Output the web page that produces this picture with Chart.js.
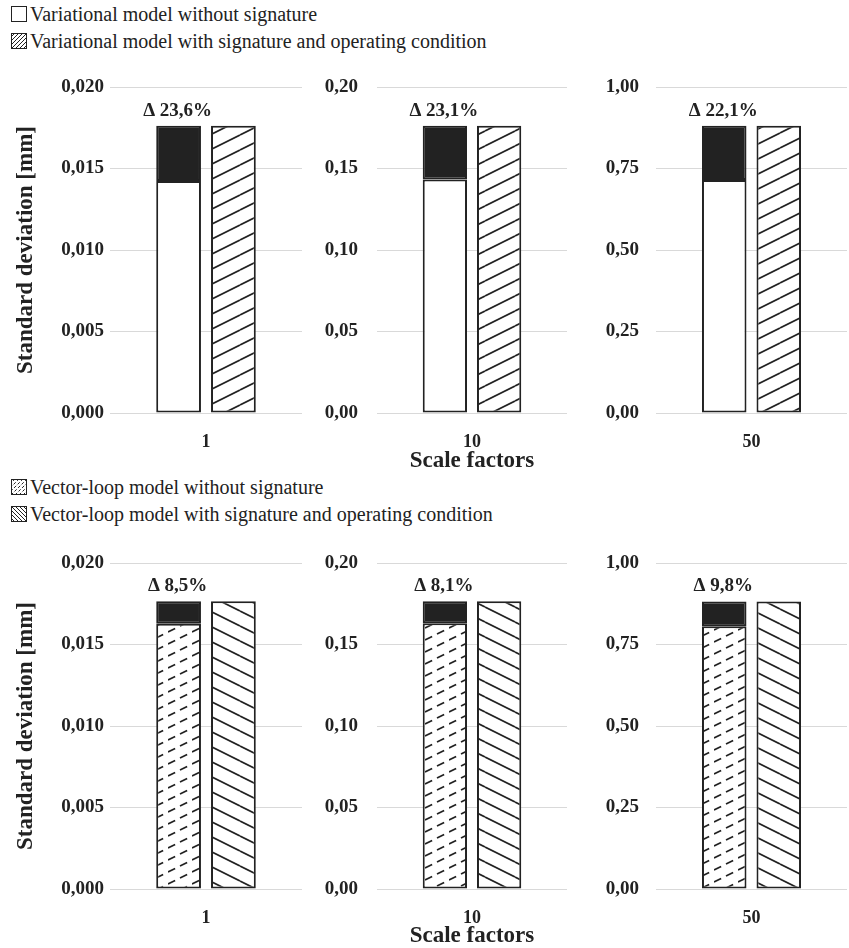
<!DOCTYPE html>
<html><head><meta charset="utf-8">
<script src="https://cdn.jsdelivr.net/npm/chart.js@4/dist/chart.umd.min.js"></script>
<style>
html,body{margin:0;padding:0;background:#fff;overflow:hidden;width:849px;height:948px;}
canvas{position:absolute;}
.leg{position:absolute;left:30px;font:20px 'Liberation Serif','Times New Roman',serif;line-height:20px;color:#222;white-space:nowrap;}
</style></head><body>
<script>
// ---------- data ----------
const scaleFactors = ['1', '10', '50'];
const varWithout = [0.01424, 0.1432, 0.715];
const varWith = [0.01762, 0.1762, 0.881];
const varDelta = ['Δ 23,6%', 'Δ 23,1%', 'Δ 22,1%'];
const vlWithout = [0.01628, 0.1630, 0.806];
const vlWith = [0.01765, 0.1765, 0.882];
const vlDelta = ['Δ 8,5%', 'Δ 8,1%', 'Δ 9,8%'];
const axisMax = [0.020, 0.20, 1.00];
const axisStep = [0.005, 0.05, 0.25];
const axisDecimals = [3, 2, 2];
const legendTop = ['Variational model without signature', 'Variational model with signature and operating condition'];
const legendBottom = ['Vector-loop model without signature', 'Vector-loop model with signature and operating condition'];
const yTitle = 'Standard deviation [mm]';
const xTitle = 'Scale factors';

// ---------- style ----------
const INK = '#222';
const FAM = "'Liberation Serif','Times New Roman',serif";
Chart.defaults.font.family = FAM;
Chart.defaults.color = INK;

const tmp = document.createElement('canvas').getContext('2d');
function pat(dir, w, h, lw, dash) {
  const c = document.createElement('canvas'); c.width = w; c.height = h;
  const g = c.getContext('2d');
  g.fillStyle = '#fff'; g.fillRect(0, 0, w, h);
  g.strokeStyle = INK; g.lineWidth = lw;
  if (dash) g.setLineDash(dash);
  for (let k = -1; k <= 1; k++) {
    g.beginPath();
    if (dir === '/') { g.moveTo(0, h + h * k); g.lineTo(w, h * k); }
    else { g.moveTo(0, h * k); g.lineTo(w, h + h * k); }
    g.stroke();
  }
  return tmp.createPattern(c, 'repeat');
}
const slashPat = pat('/', 30, 15, 1.7);
const backPat = pat('\\', 30, 15, 1.7);
const dashLen = Math.sqrt(24 * 24 + 12 * 12);
const dashPat = pat('/', 24, 12, 1.7, [8, dashLen / 2 - 8]);

const deltaPlugin = {
  id: 'delta',
  afterDatasetsDraw(chart, args, opts) {
    const bar = chart.getDatasetMeta(1).data[0];
    const ctx = chart.ctx;
    ctx.save();
    ctx.font = 'bold 19px ' + FAM;
    ctx.fillStyle = INK; ctx.textAlign = 'center'; ctx.textBaseline = 'alphabetic';
    ctx.fillText(opts.text, bar.x - 1, bar.y - 10);
    ctx.restore();
  }
};

const TICK_SIZE = 19;
const panelGeom = [
  { left: 0, width: 305, yWidth: 110, pad: 6, padRight: 3 },
  { left: 305, width: 265, yWidth: 72, pad: 19, padRight: 3 },
  { left: 570, width: 279, yWidth: 86, pad: 17, padRight: 2 }
];
const AREA_TOP = 27;
const rows = [
  { top: 60, height: 415, xHeight: 62, without: varWithout, withv: varWith, delta: varDelta, lower: '#fff', other: slashPat },
  { top: 536, height: 414, xHeight: 61, without: vlWithout, withv: vlWith, delta: vlDelta, lower: dashPat, other: backPat }
];

rows.forEach(row => {
  panelGeom.forEach((pg, i) => {
    // the y-scale reserves (half label height + tick padding) above the plot; lift the canvas to compensate
    const s = Math.max(0, Math.ceil(TICK_SIZE * 1.2 / 2 + pg.pad - AREA_TOP));
    const cv = document.createElement('canvas');
    cv.width = pg.width; cv.height = row.height + s;
    cv.style.left = pg.left + 'px'; cv.style.top = (row.top - s) + 'px';
    document.body.appendChild(cv);
    const barBase = { borderColor: INK, borderWidth: 2, borderSkipped: false, categoryPercentage: 0.571, barPercentage: 0.8165 };
    new Chart(cv, {
      type: 'bar',
      data: {
        labels: [scaleFactors[i]],
        datasets: [
          Object.assign({ label: 'without', data: [row.without[i]], backgroundColor: row.lower, stack: 'a' }, barBase),
          Object.assign({ label: 'difference', data: [row.withv[i] - row.without[i]], backgroundColor: INK, stack: 'a' }, barBase),
          Object.assign({ label: 'with', data: [row.withv[i]], backgroundColor: row.other, stack: 'b' }, barBase)
        ]
      },
      options: {
        responsive: false, animation: false,
        layout: { padding: { top: AREA_TOP + s, right: pg.padRight, left: 0, bottom: 0 } },
        plugins: { legend: { display: false }, tooltip: { enabled: false }, delta: { text: row.delta[i] } },
        scales: {
          x: {
            stacked: true,
            grid: { display: false }, border: { display: false },
            ticks: { padding: 11, font: { size: 18, weight: 'bold' }, color: INK },
            title: { display: i === 1, text: xTitle, font: { size: 23, weight: 'bold' }, color: INK, padding: { top: 0, bottom: 0 } },
            afterFit: sc => { sc.height = row.xHeight; }
          },
          y: {
            stacked: true, min: 0, max: axisMax[i],
            ticks: { stepSize: axisStep[i], padding: pg.pad, font: { size: TICK_SIZE, weight: 'bold' }, color: INK,
              callback: v => Number(v).toFixed(axisDecimals[i]).replace('.', ',') },
            grid: { color: '#d9d9d9', lineWidth: 1, drawTicks: false }, border: { display: false },
            title: { display: i === 0, text: yTitle, font: { size: 23, weight: 'bold' }, color: INK, padding: { top: 12, bottom: 0 } },
            afterFit: sc => { sc.width = pg.yWidth; }
          }
        }
      },
      plugins: [deltaPlugin]
    });
  });
});

// ---------- legends ----------
function icon(top, kind) {
  const c = document.createElement('canvas'); c.width = 16; c.height = 16;
  c.style.left = '11px'; c.style.top = top + 'px';
  document.body.appendChild(c);
  const g = c.getContext('2d');
  g.fillStyle = '#fff'; g.fillRect(0, 0, 16, 16);
  g.save(); g.beginPath(); g.rect(1, 1, 14, 14); g.clip();
  g.strokeStyle = INK; g.lineWidth = 1;
  if (kind === 'slash' || kind === 'back' || kind === 'dash') {
    if (kind === 'dash') g.setLineDash([3, 2]);
    for (let d = -16; d <= 32; d += 4) {
      g.beginPath();
      if (kind === 'back') { g.moveTo(d, 0); g.lineTo(d + 16, 16); }
      else { g.moveTo(d, 16); g.lineTo(d + 16, 0); }
      g.stroke();
    }
  }
  g.restore();
  g.strokeStyle = INK; g.lineWidth = 1; g.strokeRect(0.5, 0.5, 15, 15);
}
function legendRow(baseline, text, kind) {
  icon(baseline - 15, kind);
  const d = document.createElement('div');
  d.className = 'leg'; d.style.top = (baseline - 16.75) + 'px';
  d.textContent = text;
  document.body.appendChild(d);
}
legendRow(21, legendTop[0], 'white');
legendRow(48, legendTop[1], 'slash');
legendRow(494, legendBottom[0], 'dash');
legendRow(521, legendBottom[1], 'back');
</script>
</body></html>
